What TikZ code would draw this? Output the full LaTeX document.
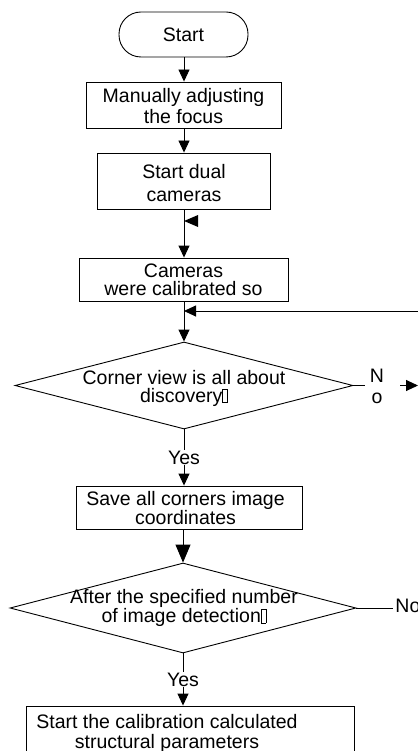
\documentclass[tikz,border=0pt]{standalone}
\usepackage{fontspec}
\setmainfont{Liberation Sans}
\usetikzlibrary{arrows.meta,shapes.geometric}
\newcommand\tofubox{{\fboxsep=0pt\fboxrule=0.6pt\fbox{\rule{0pt}{0.66em}\hspace{0.22em}}}}
\begin{document}
\begin{tikzpicture}[x=1pt,y=-1pt,
  line width=0.9pt,
  txt/.style={inner sep=0pt, align=center, font=\fontsize{19.5}{#1}\selectfont},
  txt/.default=21,
  box/.style={draw, inner sep=0pt, line width=0.9pt},
  dia/.style={draw, diamond, inner sep=0pt, line width=0.9pt},
  arr/.style={-{Triangle[length=12pt,width=11pt]}},
  bigarr/.style={-{Triangle[length=18pt,width=15pt]}},
  lab/.style={fill=white, inner sep=1pt, font=\fontsize{19.5}{21}\selectfont}
]
\useasboundingbox (0,0) rectangle (417,751);

% nodes
\node[box, rounded corners=22pt, minimum width=129pt, minimum height=45pt] (start) at (183.5,34.5) {};
\node[txt] at (start) {Start};

\node[box, minimum width=195pt, minimum height=46pt] (b1) at (183.5,105) {};
\node[txt=21] at (183.5,106) {Manually adjusting\\the focus};

\node[box, minimum width=173pt, minimum height=56pt] (b2) at (183.5,181) {};
\node[txt=23] at (184,183) {Start dual\\cameras};

\node[box, minimum width=209pt, minimum height=43pt] (b3) at (183.5,279.5) {};
\node[txt=18.5] at (183.5,280) {Cameras\\were calibrated so};

\node[dia, minimum width=338pt, minimum height=87pt] (d1) at (184,385.5) {};
\node[txt=18] at (184,388) {Corner view is all about\\discovery\tofubox};

\node[box, minimum width=226pt, minimum height=43pt] (b4) at (189,507.5) {};
\node[txt=18.5] at (185.5,508) {Save all corners image\\coordinates};

\node[dia, minimum width=346pt, minimum height=90pt] (d2) at (183,608) {};
\node[txt=13.5] at (184,608) {After the specified number\\of image detection\tofubox};

\node[box, minimum width=328pt, minimum height=66pt] (b5) at (190,739) {};
\node[txt=20] at (167,733) {Start the calibration calculated\\structural parameters};

% connectors
\draw[arr] (start.south -| 184,0) -- (b1.north -| 184,0);
\draw[arr] (b1.south -| 184,0) -- (b2.north -| 184,0);
\draw[arr] (b2.south -| 184,0) -- (b3.north -| 184,0);
\fill (184,221) -- (198,215) -- (198,227) -- cycle;
\draw[arr] (b3.south -| 184,0) -- (d1.north);

\coordinate (loopR) at (430,311);
\draw[arr] (loopR) -- (loopR -| d1.north);

\coordinate (d1no) at (365,385.5);
\draw (d1.east) -- (d1no);
\node[txt] (nN) at (377,376) {N};
\node[txt] (nO) at (377,398) {o};
\coordinate (noA) at (400,385.5);
\coordinate (noB) at (418,385.5);
\draw[arr] (noA) -- (noB);

\draw[arr] (d1.south) -- node[lab] (y1) {Yes} (d1.south |- b4.north);
\draw[bigarr] (d2.north |- b4.south) -- (d2.north);

\coordinate (d2no) at (393,608);
\draw (d2.east) -- (d2no);
\node[txt, anchor=west] (no2) at (395,606) {No};

\draw[arr] (d2.south) -- node[lab] (y2) {Yes} (d2.south |- b5.north);
\end{tikzpicture}
\end{document}
